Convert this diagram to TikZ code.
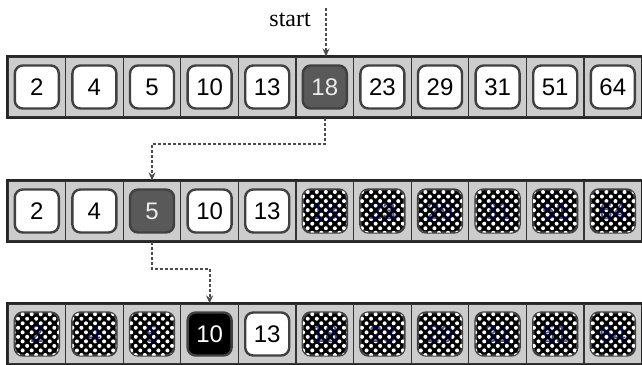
\documentclass[tikz,border=0pt]{standalone}
\usepackage{fontspec}
\setmainfont{Liberation Serif}
\setsansfont{Liberation Sans}
\usetikzlibrary{arrows.meta,patterns.meta}
\tikzset{
  >=Stealth,
  every picture/.append style={line width=0.6pt},
}
\begin{document}
\begin{tikzpicture}[x=0.5pt,y=-0.5pt,
  cell/.style={rectangle, draw=black!80, fill=gray!40, minimum width=28.8pt,
               minimum height=30pt, inner sep=0pt},
  strip/.style={draw=black!85, line width=1pt},
  key/.style={rectangle, rounded corners=4pt, draw=black!75, line width=1.2pt,
              fill=white, minimum width=22pt, minimum height=21.5pt, inner sep=0pt,
              font=\sffamily\fontsize{12}{12}\selectfont},
  found/.style={key, fill=gray!70!black, text=white!85!gray},
  hit/.style={key, fill=black, text=white},
  gone/.style={key, fill=black, text=blue!35!black, text opacity=0.7,
               postaction={pattern={Dots[radius=1pt,distance=3.2pt,angle=45]},
                           pattern color=white}},
  trail/.style={-{Stealth[length=4pt,width=3.5pt]}, line width=1pt, black!70,
                dash pattern=on 1.5pt off 1pt},
  lbl/.style={font=\fontsize{12}{12}\selectfont}
]
\useasboundingbox (0,0) rectangle (642,364);

% First pass
\foreach \v/\st [count=\i] in {2/key,4/key,5/key,10/key,13/key,18/found,
                                23/key,29/key,31/key,51/key,64/key}{
  \node[cell] (a\i) at ({8+57.6*(\i-0.5)},87) {};
  \node[\st] (ka\i) at (a\i) {\v};
}
\draw[strip] (a1.north west) rectangle (a11.south east);

% Second pass
\foreach \v/\st [count=\i] in {2/key,4/key,5/found,10/key,13/key,18/gone,
                                23/gone,29/gone,31/gone,51/gone,64/gone}{
  \node[cell] (b\i) at ({8+57.6*(\i-0.5)},211) {};
  \node[\st] (kb\i) at (b\i) {\v};
}
\draw[strip] (b1.north west) rectangle (b11.south east);

% Third pass
\foreach \v/\st [count=\i] in {2/gone,4/gone,5/gone,10/hit,13/key,18/gone,
                                23/gone,29/gone,31/gone,51/gone,64/gone}{
  \node[cell] (c\i) at ({8+57.6*(\i-0.5)},334) {};
  \node[\st] (kc\i) at (c\i) {\v};
}
\draw[strip] (c1.north west) rectangle (c11.south east);

% Search path
\coordinate (s0) at (326,8);
\node[lbl, anchor=east] (go) at (318,20) {start};
\draw[trail] (s0) -- (s0 |- a6.north);
\draw[trail] (a6.south) -- ++(0,26) -| (b3.north);
\draw[trail] (b3.south) -- ++(0,27) -| (c4.north);

\end{tikzpicture}
\end{document}
